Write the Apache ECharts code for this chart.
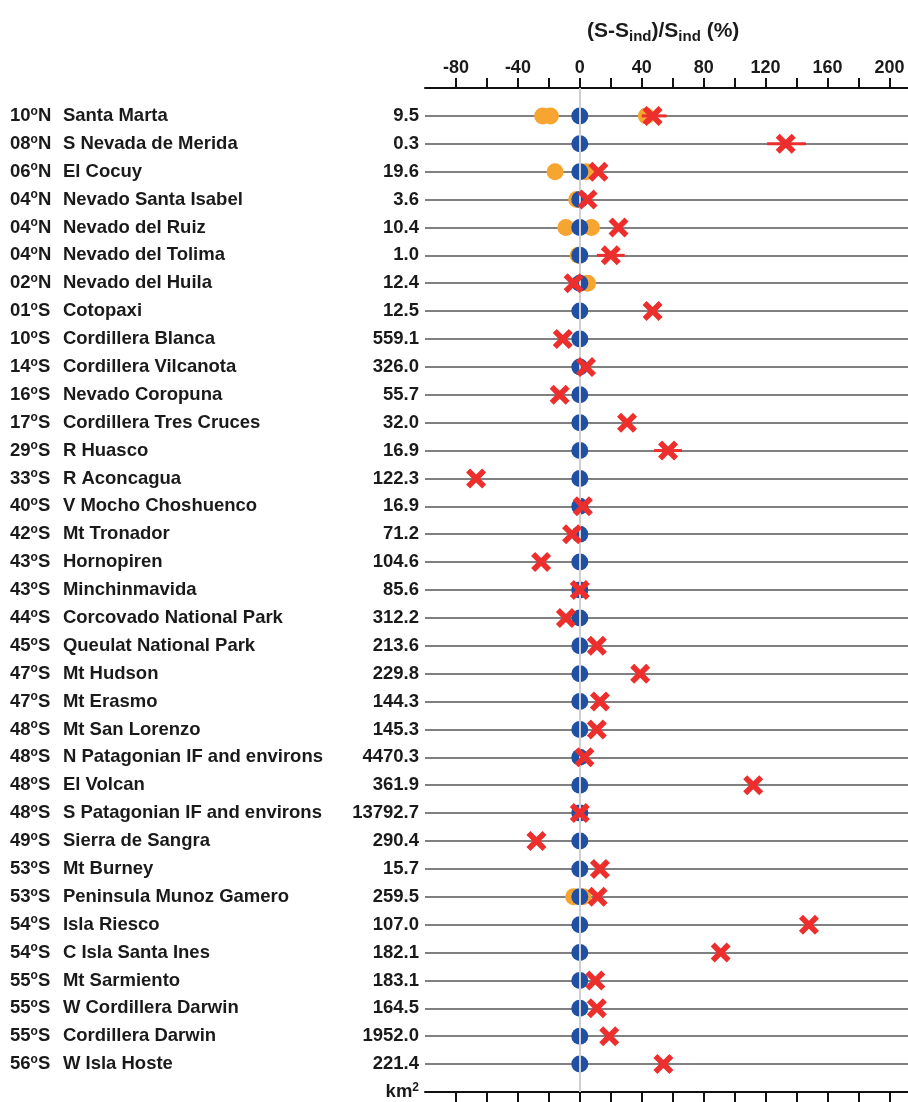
<!DOCTYPE html>
<html>
<head>
<meta charset="utf-8">
<script src="https://cdn.jsdelivr.net/npm/echarts@6/dist/echarts.min.js"></script>
<style>
  html, body { margin: 0; padding: 0; background: #fff; }
  #main { width: 908px; height: 1102px; }
</style>
</head>
<body>
<div id="main"></div>
<script>
// rows, top to bottom
var lats = ['10','08','06','04','04','04','02','01','10','14','16','17','29','33','40','42','43','43',
  '44','45','47','47','48','48','48','48','49','53','53','54','54','55','55','55','56'];
var hemis = ['N','N','N','N','N','N','N','S','S','S','S','S','S','S','S','S','S','S',
  'S','S','S','S','S','S','S','S','S','S','S','S','S','S','S','S','S'];
var names = ['Santa Marta','S Nevada de Merida','El Cocuy','Nevado Santa Isabel','Nevado del Ruiz',
  'Nevado del Tolima','Nevado del Huila','Cotopaxi','Cordillera Blanca','Cordillera Vilcanota',
  'Nevado Coropuna','Cordillera Tres Cruces','R Huasco','R Aconcagua','V Mocho Choshuenco',
  'Mt Tronador','Hornopiren','Minchinmavida','Corcovado National Park','Queulat National Park',
  'Mt Hudson','Mt Erasmo','Mt San Lorenzo','N Patagonian IF and environs','El Volcan',
  'S Patagonian IF and environs','Sierra de Sangra','Mt Burney','Peninsula Munoz Gamero',
  'Isla Riesco','C Isla Santa Ines','Mt Sarmiento','W Cordillera Darwin','Cordillera Darwin','W Isla Hoste'];
var areas = ['9.5','0.3','19.6','3.6','10.4','1.0','12.4','12.5','559.1','326.0','55.7','32.0','16.9',
  '122.3','16.9','71.2','104.6','85.6','312.2','213.6','229.8','144.3','145.3','4470.3','361.9',
  '13792.7','290.4','15.7','259.5','107.0','182.1','183.1','164.5','1952.0','221.4'];

// (S-Sind)/Sind in %
var blueVals = [0,0,0,0,0,0,0,0,0,0,0,0,0,0,0,0,0,0,0,0,0,0,0,0,0,0,0,0,0,0,0,0,0,0,0];
var redVals = [47,133,12,5,25,20,-4,47,-11,4,-13,30.5,57,-67,2,-5,-25,0,-9,11,39,13,11,3,112,0,-28,
  13,11.5,148,91,10,11,19,54];
var orangeRows = [1,1,1,3,3,4,5,5,6,7,29,29];
var orangeVals = [-24,-19,43,-16,4,-2,-9,7.5,-1,5,-4,2];
var errRows = [1,2,6,13];
var errLo = [40,121,11,48];
var errHi = [56,146,29,66];

var xTicks = [-80,-60,-40,-20,0,20,40,60,80,100,120,140,160,180,200];
var xLabels = [-80,-40,0,40,80,120,160,200];

var FONT = 'Liberation Sans, Arial, sans-serif';
var nRows = names.length;
var crossPath = 'path://M20,0 L50,30 L80,0 L100,20 L70,50 L100,80 L80,100 L50,70 L20,100 L0,80 L30,50 L0,20 Z';

var chart = echarts.init(document.getElementById('main'));

var baseY = {
  type: 'value',
  min: 0,
  max: nRows + 1,
  interval: 1,
  inverse: true,
  axisLine: { show: false },
  axisTick: { show: false }
};

option = {
  backgroundColor: '#fff',
  animation: false,
  textStyle: { fontFamily: FONT },
  title: {
    text: '(S-S{s|ind})/S{s|ind} (%)',
    left: 582,
    top: 14,
    textStyle: {
      fontFamily: FONT, fontWeight: 'bold', fontSize: 21, color: '#1a1a1a',
      rich: {
        s: { fontFamily: FONT, fontWeight: 'bold', fontSize: 15, color: '#1a1a1a', padding: [10, 0, 0, 0] }
      }
    }
  },
  grid: { left: 425, right: 0, top: 88, bottom: 10 },
  xAxis: [
    {
      type: 'value', position: 'top', min: -100, max: 212, interval: 20,
      axisLine: { show: true, onZero: false, lineStyle: { color: '#111', width: 2 } },
      axisTick: { show: true, length: 10, lineStyle: { color: '#111', width: 2 }, customValues: xTicks },
      axisLabel: { customValues: xLabels, margin: 11, color: '#1a1a1a', fontWeight: 'bold', fontSize: 18, fontFamily: FONT },
      splitLine: { show: false }
    },
    {
      type: 'value', position: 'bottom', min: -100, max: 212, interval: 20,
      axisLine: { show: true, onZero: false, lineStyle: { color: '#111', width: 2 } },
      axisTick: { show: true, length: 10, lineStyle: { color: '#111', width: 2 }, customValues: xTicks },
      axisLabel: { show: false },
      splitLine: { show: false }
    }
  ],
  yAxis: [
    Object.assign({}, baseY, {
      splitLine: { show: true, lineStyle: { color: '#808080', width: 2 } },
      axisLabel: {
        margin: 6, color: '#1a1a1a', fontWeight: 'bold', fontSize: 18.5, fontFamily: FONT,
        formatter: function (v) {
          if (v >= 1 && v <= nRows) return areas[v - 1];
          if (v === nRows + 1) return '{u|km}{p|2}';
          return '';
        },
        rich: {
          u: { fontWeight: 'bold', fontSize: 18.5, fontFamily: FONT, color: '#1a1a1a' },
          p: { fontWeight: 'bold', fontSize: 12, fontFamily: FONT, color: '#1a1a1a', padding: [0, 0, 9, 0] }
        }
      }
    }),
    Object.assign({}, baseY, {
      position: 'left',
      splitLine: { show: false },
      axisLabel: {
        margin: 415, align: 'left', color: '#1a1a1a', fontWeight: 'bold', fontSize: 18.5, fontFamily: FONT,
        formatter: function (v) {
          if (v >= 1 && v <= nRows) {
            var i = v - 1;
            return '{a|' + lats[i] + '}{o|o}{d|' + hemis[i] + '}{a|' + names[i] + '}';
          }
          return '';
        },
        rich: {
          a: { fontWeight: 'bold', fontSize: 18.5, fontFamily: FONT, color: '#1a1a1a' },
          o: { fontWeight: 'bold', fontSize: 12, fontFamily: FONT, color: '#1a1a1a', padding: [0, 0, 9, 0] },
          d: { fontWeight: 'bold', fontSize: 18.5, fontFamily: FONT, color: '#1a1a1a', width: 25 }
        }
      }
    })
  ],
  series: [
    {
      name: 'orange',
      type: 'scatter',
      symbol: 'circle',
      symbolSize: 17,
      itemStyle: { color: '#f6a531', opacity: 1 },
      z: 2,
      data: orangeVals.map(function (v, i) { return [v, orangeRows[i]]; }),
      markLine: {
        silent: true,
        symbol: 'none',
        label: { show: false },
        lineStyle: { color: '#cfcfcf', width: 2, type: 'solid' },
        data: [{ xAxis: 0 }]
      }
    },
    {
      name: 'blue',
      type: 'scatter',
      symbol: 'circle',
      symbolSize: 17,
      itemStyle: { color: '#1f50a3', opacity: 1 },
      z: 3,
      data: blueVals.map(function (v, i) { return [v, i + 1]; })
    },
    {
      name: 'err',
      type: 'custom',
      z: 4,
      renderItem: function (params, api) {
        var a = api.coord([api.value(0), api.value(2)]);
        var b = api.coord([api.value(1), api.value(2)]);
        return {
          type: 'line',
          shape: { x1: a[0], y1: a[1], x2: b[0], y2: b[1] },
          style: { stroke: '#ec2e2c', lineWidth: 3 }
        };
      },
      data: errLo.map(function (v, i) { return [v, errHi[i], errRows[i]]; })
    },
    {
      name: 'red',
      type: 'scatter',
      symbol: crossPath,
      symbolSize: 20,
      itemStyle: { color: '#ec2e2c', opacity: 1 },
      z: 5,
      data: redVals.map(function (v, i) { return [v, i + 1]; })
    }
  ]
};
chart.setOption(option);
</script>
</body>
</html>
